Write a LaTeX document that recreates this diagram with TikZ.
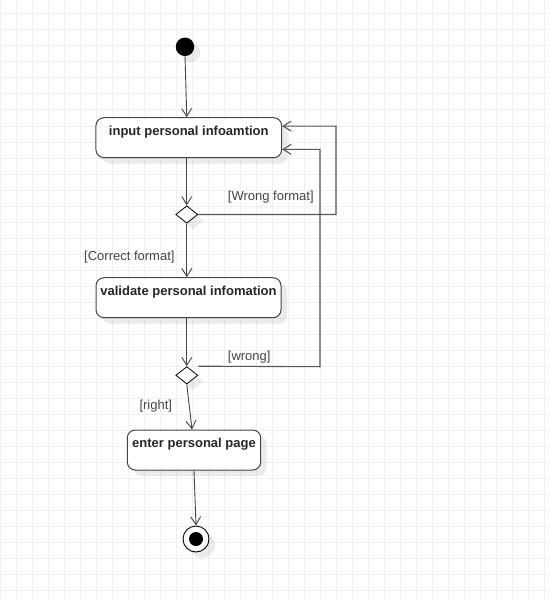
\documentclass[tikz,border=0pt]{standalone}
\usepackage{fontspec}
\setmainfont{Liberation Sans}
\usetikzlibrary{arrows.meta,shapes.geometric,shadows}
\definecolor{gridc}{HTML}{F0F0F0}
\definecolor{linec}{HTML}{444444}
\definecolor{loopc}{HTML}{555555}
\definecolor{labc}{HTML}{444444}
\tikzset{
  shad/.style={drop shadow={shadow xshift=6pt,shadow yshift=-6pt,fill=black,opacity=0.08}},
  actbox/.style={draw=linec,line width=1pt,rounded corners=8pt,fill=white,shad,inner xsep=0pt,inner ysep=0pt,
    font=\bfseries\fontsize{13}{15}\selectfont,text=black!85,text height=17.7pt,text depth=22.3pt,minimum height=40pt},
  decide/.style={diamond,draw=black,line width=0.8pt,fill=white,shad,inner sep=0pt,minimum width=22pt,minimum height=17.4pt},
  arr/.style={draw=linec,line width=0.9pt,-{Straight Barb[length=8pt,width=10pt]}},
  loopline/.style={draw=loopc,line width=1.1pt,-{Straight Barb[length=8pt,width=10pt]}},
  guard/.style={anchor=west,inner sep=0pt,text=labc,font=\fontsize{13}{15}\selectfont},
}
\begin{document}
\begin{tikzpicture}[x=1pt,y=-1pt]
\useasboundingbox (0,0) rectangle (550,599);
\fill[white] (0,0) rectangle (550,599);
\foreach \gx in {0,16,...,544} \draw[gridc,line width=1pt] (\gx,0) -- (\gx,599);
\foreach \gy in {14,30,...,590} \draw[gridc,line width=1pt] (0,\gy) -- (550,\gy);

\node[circle,fill=black,inner sep=0pt,minimum size=18.5pt,shad] (init) at (185,46.8) {};
\node[actbox,minimum width=185.7pt] (box1) at (188.8,137.7) {input personal infoamtion};
\node[decide] (d1) at (186.8,214.5) {};
\node[actbox,minimum width=185pt] (box2) at (188.5,297.7) {validate personal infomation};
\node[decide] (d2) at (186.8,375.3) {};
\node[actbox,minimum width=133.4pt] (box3) at (194,450) {enter personal page};
\node[circle,draw=black,line width=0.9pt,fill=white,minimum size=26pt,inner sep=0pt,shad,
  path picture={\fill[black] (path picture bounding box.center) circle (7pt);}] (final) at (196,539) {};

\draw[arr] (init.south) -- ([xshift=-2pt]box1.north);
\draw[arr] (d1 |- box1.south) -- (d1.north);
\draw[arr] (d1.south) -- (d1 |- box2.north);
\draw[arr] (d2 |- box2.south) -- (d2.north);
\draw[arr] (d2.south) -- ([xshift=-2pt]box3.north);
\draw[arr] (box3.south) -- (final.north);

\draw[loopline] (d1.east) -- (336,214.5) -- (336,126.1) -- ([yshift=11.6pt]box1.east);
\draw[loopline] ([xshift=11.5pt]d2.north) -- (320,366.7) -- (320,149.3) -- ([yshift=-11.6pt]box1.east);

\node[guard] (g1) at (227.7,197) {[Wrong format]};
\node[guard] (g2) at (84,257) {[Correct format]};
\node[guard] (g3) at (227.7,357.5) {[wrong]};
\node[guard] (g4) at (139.3,406) {[right]};
\end{tikzpicture}
\end{document}
